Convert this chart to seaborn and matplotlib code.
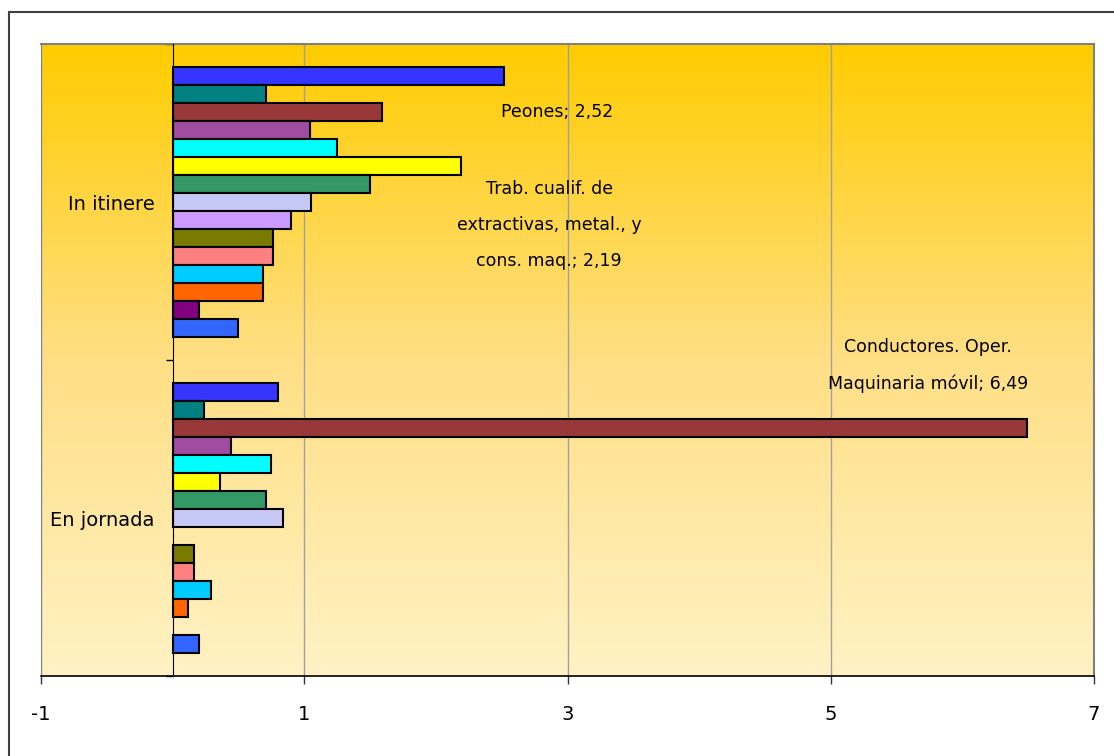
import numpy as np
import pandas as pd
import matplotlib
matplotlib.use("Agg")
import matplotlib.pyplot as plt
import matplotlib.patches as mpatches
from matplotlib.colors import LinearSegmentedColormap
import seaborn as sns

# -----------------------------
# Data
# -----------------------------
groups = ["In itinere", "En jornada"]

series = [
    "Peones",
    "Serie 2",
    "Conductores. Oper. Maquinaria móvil",
    "Serie 4",
    "Serie 5",
    "Trab. cualif. de extractivas, metal., y cons. maq.",
    "Serie 7",
    "Serie 8",
    "Serie 9",
    "Serie 10",
    "Serie 11",
    "Serie 12",
    "Serie 13",
    "Serie 14",
    "Serie 15",
]

in_itinere = [2.52, 0.71, 1.59, 1.04, 1.25, 2.19, 1.50, 1.05, 0.90, 0.76, 0.76, 0.69, 0.69, 0.20, 0.50]
en_jornada = [0.80, 0.24, 6.49, 0.44, 0.75, 0.36, 0.71, 0.84, np.nan, 0.16, 0.16, 0.29, 0.12, np.nan, 0.20]

colors = [
    "#3535FF", "#008080", "#993838", "#A04CA0", "#00FFFF",
    "#FFFF00", "#339966", "#C8C8F4", "#CC99FF", "#7A7A00",
    "#FF8080", "#00CCFF", "#FF6600", "#800080", "#3366FF",
]

x_ticks = [-1, 1, 3, 5, 7]

labels = [
    ("Peones; 2,52", 2.92, -0.285),
    ("Trab. cualif. de\nextractivas, metal., y\ncons. maq.; 2,19", 2.86, 0.073),
    ("Conductores. Oper.\nMaquinaria móvil; 6,49", 5.74, 0.517),
]

# -----------------------------
# Build table
# -----------------------------
df = pd.DataFrame({
    "Grupo": [groups[0]] * len(series) + [groups[1]] * len(series),
    "Serie": series + series,
    "Valor": in_itinere + en_jornada,
})

# -----------------------------
# Plot
# -----------------------------
sns.set_style("white")
plt.rcParams["font.family"] = ["DejaVu Sans"]
plt.rcParams["text.color"] = "black"
plt.rcParams["xtick.color"] = "black"
plt.rcParams["ytick.color"] = "black"
plt.rcParams["xtick.labelcolor"] = "black"
plt.rcParams["ytick.labelcolor"] = "black"

fig = plt.figure(figsize=(11.14, 7.56), dpi=100)
ax = fig.add_axes([41 / 1114, 1 - 676 / 756, (1094 - 41) / 1114, (676 - 44) / 756])

# gradient background
cmap = LinearSegmentedColormap.from_list("bg", ["#FFF2C4", "#FFDF85", "#FFCC00"])
grad = np.linspace(0, 1, 256).reshape(-1, 1)
ax.imshow(grad, extent=[0, 1, 0, 1], transform=ax.transAxes, aspect="auto",
          cmap=cmap, origin="lower", zorder=0)

sns.barplot(data=df, y="Grupo", x="Valor", hue="Serie", order=groups,
            hue_order=series, palette=colors, saturation=1, orient="h",
            width=0.855, edgecolor="black", linewidth=1.5, legend=False,
            ax=ax, zorder=3)

ax.set_xlim(-1, 7)
ax.set_ylim(1.5, -0.5)
ax.set_xticks(x_ticks)
ax.set_xticklabels([str(t) for t in x_ticks], fontsize=14)
ax.set_xlabel("")
ax.set_ylabel("")
ax.grid(axis="x", color="#A0A0A0", linewidth=1, zorder=1)
ax.grid(axis="y", visible=False)
ax.set_axisbelow(True)

# y axis sits at x = 0
ax.spines["left"].set_position(("data", 0))
ax.spines["left"].set_color("black")
ax.spines["left"].set_zorder(4)
ax.spines["bottom"].set_color("black")
ax.spines["bottom"].set_linewidth(1.2)
for s in ["top", "right"]:
    ax.spines[s].set_color("#808080")
    ax.spines[s].set_linewidth(1.5)

ax.tick_params(axis="x", bottom=True, direction="out", length=6, width=1,
               color="#333333", pad=15)
ax.tick_params(axis="y", which="major", left=True, length=0, pad=13, labelsize=14)
ax.set_yticks([-0.5, 0.5, 1.5], minor=True)
ax.tick_params(axis="y", which="minor", left=True, direction="out", length=5,
               width=1, color="black")

# left grey border of the plot area
ax.axvline(-1, color="#808080", linewidth=1.5, zorder=2)

for txt, x, y in labels:
    ax.text(x, y, txt, ha="center", va="center", fontsize=12.5,
            linespacing=2.3, zorder=5)

# outer frame
fig.patches.append(mpatches.Rectangle((9 / 1114, -0.02), 1.0, 1 - 12 / 756 + 0.02,
                                      transform=fig.transFigure, fill=False,
                                      edgecolor="#404040", linewidth=1.5))

fig.savefig("out.png", dpi=100)
